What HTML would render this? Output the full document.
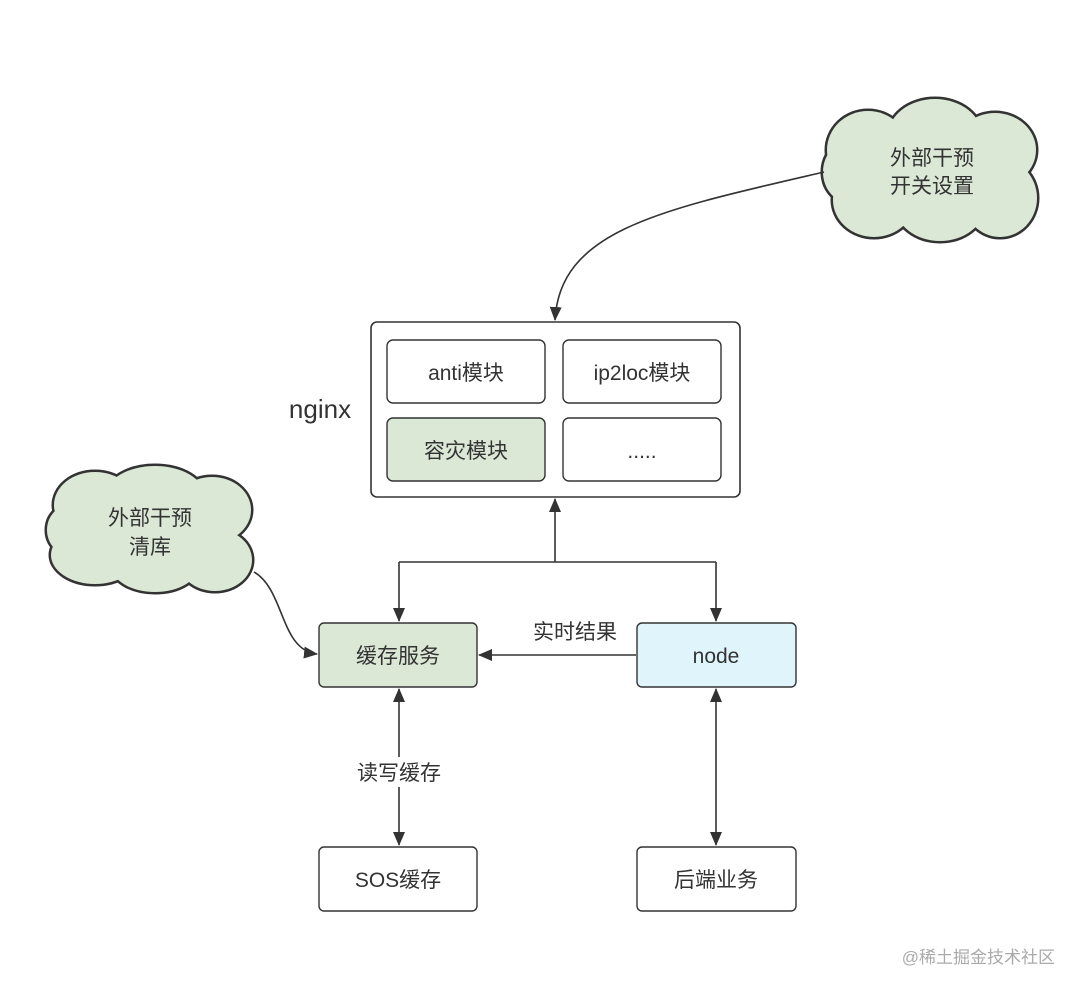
<!DOCTYPE html>
<html><head><meta charset="utf-8"><style>
html,body{margin:0;padding:0;background:#fff;}
svg{display:block;}
text{font-family:"Liberation Sans","Noto Sans CJK SC",sans-serif;fill:#333;}
</style></head><body>
<svg width="1080" height="993" viewBox="0 0 1080 993" xmlns="http://www.w3.org/2000/svg">
<defs>
<marker id="as" markerWidth="14" markerHeight="14" refX="13" refY="7" orient="auto-start-reverse" markerUnits="userSpaceOnUse" viewBox="0 0 14 14">
<path d="M0,1 L14,7 L0,13 z" fill="#333"/></marker>
</defs>
<!-- cloud 1 -->
<g stroke="#333" stroke-width="3" fill="#333">
<ellipse cx="868" cy="150" rx="42" ry="40"/><ellipse cx="935" cy="136" rx="48" ry="38"/><ellipse cx="995" cy="150" rx="42" ry="38"/>
<ellipse cx="1000" cy="198" rx="38" ry="40"/><ellipse cx="940" cy="207" rx="45" ry="35"/><ellipse cx="874" cy="200" rx="42" ry="38"/><ellipse cx="850" cy="172" rx="28" ry="32"/>
</g>
<g fill="#dbe8d6">
<ellipse cx="868" cy="150" rx="41" ry="39"/><ellipse cx="935" cy="136" rx="47" ry="37"/><ellipse cx="995" cy="150" rx="41" ry="37"/>
<ellipse cx="1000" cy="198" rx="37" ry="39"/><ellipse cx="940" cy="207" rx="44" ry="34"/><ellipse cx="874" cy="200" rx="41" ry="37"/><ellipse cx="850" cy="172" rx="27" ry="31"/>
<rect x="860" y="140" width="140" height="70"/>
</g>
<text x="932" y="165" font-size="21" text-anchor="middle">外部干预</text>
<text x="932" y="193" font-size="21" text-anchor="middle">开关设置</text>
<!-- cloud 2 -->
<g stroke="#333" stroke-width="3" fill="#333">
<ellipse cx="95" cy="505" rx="42" ry="34"/><ellipse cx="155" cy="495" rx="50" ry="30"/><ellipse cx="212" cy="510" rx="40" ry="34"/>
<ellipse cx="215" cy="560" rx="38" ry="32"/><ellipse cx="155" cy="565" rx="45" ry="28"/><ellipse cx="95" cy="555" rx="45" ry="30"/><ellipse cx="70" cy="530" rx="24" ry="26"/>
</g>
<g fill="#dbe8d6">
<ellipse cx="95" cy="505" rx="41" ry="33"/><ellipse cx="155" cy="495" rx="49" ry="29"/><ellipse cx="212" cy="510" rx="39" ry="33"/>
<ellipse cx="215" cy="560" rx="37" ry="31"/><ellipse cx="155" cy="565" rx="44" ry="27"/><ellipse cx="95" cy="555" rx="44" ry="29"/><ellipse cx="70" cy="530" rx="23" ry="25"/>
<rect x="80" y="500" width="140" height="60"/>
</g>
<text x="150" y="525" font-size="21" text-anchor="middle">外部干预</text>
<text x="150" y="554" font-size="21" text-anchor="middle">清库</text>
<!-- connectors -->
<g stroke="#333" stroke-width="1.6" fill="none">
<path d="M824,172 C660,210 560,230 555,320" marker-end="url(#as)"/>
<path d="M254,572 C285,590 280,650 317,654" marker-end="url(#as)"/>
<path d="M555,562 L555,499" marker-end="url(#as)"/>
<path d="M399,562 L716,562"/>
<path d="M399,562 L399,621" marker-end="url(#as)"/>
<path d="M716,562 L716,621" marker-end="url(#as)"/>
<path d="M636,655 L479,655" marker-end="url(#as)"/>
<path d="M399,689 L399,845" marker-start="url(#as)" marker-end="url(#as)"/>
<path d="M716,689 L716,845" marker-start="url(#as)" marker-end="url(#as)"/>
</g>
<rect x="348" y="757" width="102" height="30" fill="#fff"/>
<text x="399" y="780" font-size="21" text-anchor="middle">读写缓存</text>
<text x="575" y="639" font-size="21" text-anchor="middle">实时结果</text>
<!-- nginx -->
<text x="320" y="418" font-size="26" text-anchor="middle">nginx</text>
<rect x="371" y="322" width="369" height="175" rx="6" fill="#fff" stroke="#333" stroke-width="1.6"/>
<g stroke="#333" stroke-width="1.4">
<rect x="387" y="340" width="158" height="63" rx="6" fill="#fff"/>
<rect x="563" y="340" width="158" height="63" rx="6" fill="#fff"/>
<rect x="387" y="418" width="158" height="63" rx="6" fill="#dbe8d6"/>
<rect x="563" y="418" width="158" height="63" rx="6" fill="#fff"/>
<rect x="319" y="623" width="158" height="64" rx="5" fill="#dbe8d6"/>
<rect x="637" y="623" width="159" height="64" rx="5" fill="#dff5fb"/>
<rect x="319" y="847" width="158" height="64" rx="5" fill="#fff"/>
<rect x="637" y="847" width="159" height="64" rx="5" fill="#fff"/>
</g>
<g font-size="21" text-anchor="middle">
<text x="466" y="380">anti模块</text>
<text x="642" y="380">ip2loc模块</text>
<text x="466" y="458">容灾模块</text>
<text x="642" y="458">.....</text>
<text x="398" y="663">缓存服务</text>
<text x="716" y="663">node</text>
<text x="398" y="887">SOS缓存</text>
<text x="716" y="887">后端业务</text>
</g>
<text x="1055" y="963" font-size="17" text-anchor="end" style="fill:#aaa">@稀土掘金技术社区</text>
</svg>
</body></html>
